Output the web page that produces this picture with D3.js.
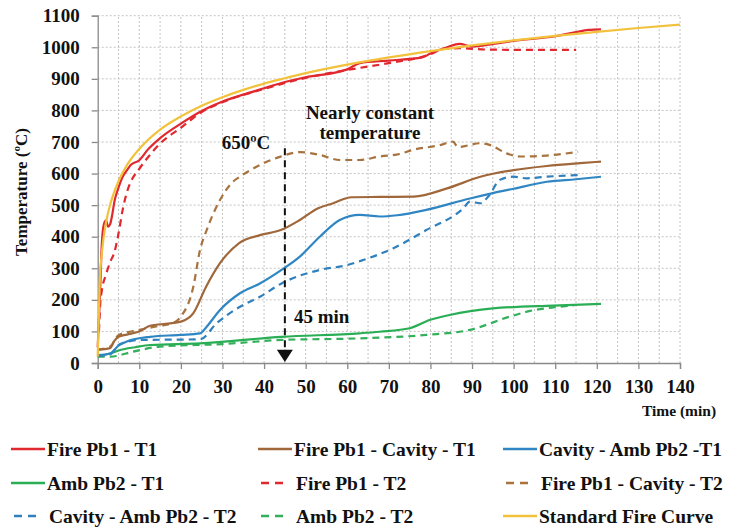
<!DOCTYPE html>
<html>
<head>
<meta charset="utf-8">
<script src="https://cdn.jsdelivr.net/npm/d3@7"></script>
<style>
  body { margin: 0; background: #fff; }
  text { font-family: "Liberation Serif", "Times New Roman", "DejaVu Serif", serif; font-weight: bold; fill: #111; }
</style>
</head>
<body>
<script>
// values: [time (min), temperature (ºC)]
var fireT1 = [[0,50],[0.5,200],[1,380],[1.5,440],[2,452],[2.5,432],[3,440],[3.5,470],[4,510],[5,555],[6,590],[7,610],[8,628],[10,642],
  [12,675],[15,712],[20,758],[25,798],[30,828],[35,850],[40,870],[45,890],[50,905],[60,930],[63,950],[70,958],[78,968],[80,980],
  [84,1000],[87,1011],[90,1002],[95,1010],[100,1020],[110,1035],[115,1048],[118,1055],[121,1057]];
var fireT2 = [[0.3,100],[0.6,185],[1,230],[2,280],[3,320],[4,350],[5,410],[6,485],[7,540],[8,575],[10,615],[12,650],[15,695],
  [20,745],[25,795],[30,826],[40,868],[50,903],[60,928],[70,950],[80,978],[83,995],[87,997],[93,993],[100,992],[110,992],[115,992]];
var cavT1 = [[0,42],[3,47],[4,70],[5,83],[7,90],[10,100],[12.6,118],[17,125],[20,131],[23,158],[26,240],[29.4,316],[34,380],
  [39,405],[44,421],[48.6,453],[53,490],[56.6,506],[61,525],[68,526],[76,527],[84,553],[92,590],[100,611],[108,624],[116,633],[121,638]];
var cavT2 = [[0,42],[3,52],[5,88],[10,105],[15,118],[18,126],[20,147],[23,242],[24.6,358],[26.2,421],[29.4,516],[32.6,575],
  [34.2,590],[39,627],[43.8,653],[48.6,668],[53.4,659],[58.2,643],[63,643],[67.8,654],[72.6,662],[75.8,675],[82.3,690],[85.4,701],
  [86.6,684],[92,696],[94.4,690],[98.3,664],[101.6,654],[107.9,657],[115.5,669]];
var ambCavT1 = [[0,25],[3,30],[5,55],[7,68],[12.6,83],[19.8,89],[24.6,94],[26.2,115],[29.4,168],[34.2,221],[39,252],[44.2,295],
  [48.6,337],[53.4,400],[58.2,453],[63,469],[67.8,464],[72,468],[79,485],[89.5,521],[95,538],[100,552],[108,574],[115,582],[121,590]];
var ambCavT2 = [[0,22],[3,28],[5.4,60],[10.2,73],[18,74],[24.6,75],[28.6,126],[34.2,178],[39,210],[44.2,252],[53.4,295],
  [60,310],[63.8,326],[71,363],[79,421],[87.9,490],[89.5,511],[92,506],[93.9,527],[96.7,580],[99.9,590],[103.1,585],[107.9,590],[115.5,595]];
var ambT1 = [[0,22],[3,30],[5.4,41],[9,50],[12.6,57],[24.6,62],[44.2,83],[63,94],[67.8,99],[75,110],[79.8,136],[84.6,152],
  [95,173],[109.5,182],[121,187]];
var ambT2 = [[0,20],[3,20],[8.5,36],[15,52],[30,60],[44.2,73],[63,78],[79,89],[89.5,105],[99.1,147],[104,165],[109.5,176],[114.4,182]];
var standard = [[0,20],[0.5,261],[1,349],[2,445],[3,502],[5,576],[7,626],[10,678],[15,739],[20,781],[25,815],[30,842],[35,865],
  [40,885],[45,902],[50,918],[60,945],[70,968],[80,988],[90,1006],[100,1022],[110,1036],[120,1049],[130,1061],[140,1072]];

var xTicks = [0,10,20,30,40,50,60,70,80,90,100,110,120,130,140];
var yTicks = [0,100,200,300,400,500,600,700,800,900,1000,1100];

var series = [
  {name: "Fire Pb1 - T1", data: fireT1, color: "#e0282e", dash: null},
  {name: "Fire Pb1 - Cavity - T1", data: cavT1, color: "#a0673a", dash: null},
  {name: "Cavity - Amb Pb2 -T1", data: ambCavT1, color: "#2f86c3", dash: null},
  {name: "Amb Pb2 - T1", data: ambT1, color: "#2aae55", dash: null},
  {name: "Fire Pb1 - T2", data: fireT2, color: "#e0282e", dash: "7,5"},
  {name: "Fire Pb1 - Cavity - T2", data: cavT2, color: "#a8733f", dash: "7,5"},
  {name: "Cavity - Amb Pb2 - T2", data: ambCavT2, color: "#2f80bd", dash: "7,5"},
  {name: "Amb Pb2 - T2", data: ambT2, color: "#34b05c", dash: "7,5"},
  {name: "Standard Fire Curve", data: standard, color: "#f2c23c", dash: null}
];

var svg = d3.select("body").append("svg").attr("width", 730).attr("height", 527);

var x = d3.scaleLinear().domain([0, 140]).range([97.7, 680]);
var y = d3.scaleLinear().domain([0, 1100]).range([363, 15.7]);

// grid (dotted)
var grid = svg.append("g").attr("stroke", "#c4c4c4").attr("stroke-width", 1).attr("stroke-dasharray", "2,2");
grid.selectAll("line.v").data(d3.range(5, 141, 5)).enter().append("line")
  .attr("x1", d => x(d)).attr("x2", d => x(d)).attr("y1", y(0)).attr("y2", y(1100));
grid.selectAll("line.h").data(yTicks.slice(1)).enter().append("line")
  .attr("x1", x(0)).attr("x2", x(140)).attr("y1", d => y(d)).attr("y2", d => y(d));

// axes
var xAxis = svg.append("g").attr("transform", "translate(0," + y(0) + ")")
  .call(d3.axisBottom(x).tickValues(xTicks).tickFormat(d3.format("d")).tickSize(6).tickPadding(11));
var yAxis = svg.append("g").attr("transform", "translate(" + x(0) + ",0)")
  .call(d3.axisLeft(y).tickValues(yTicks).tickFormat(d3.format("d")).tickSize(6).tickPadding(12));
[xAxis, yAxis].forEach(function(a){
  a.attr("font-family", null).attr("font-size", 19);
  a.selectAll("path, line").attr("stroke", "#8a8a8a").attr("stroke-width", 1.3);
  a.selectAll("text").attr("font-size", 19).attr("fill", "#111");
});

svg.append("text").attr("transform", "translate(27,192) rotate(-90)").attr("text-anchor", "middle")
  .attr("font-size", 17).text("Temperature (ºC)");
svg.append("text").attr("x", 679).attr("y", 416).attr("text-anchor", "middle").attr("font-size", 15.5).text("Time (min)");

// lines
var line = d3.line().x(d => x(d[0])).y(d => y(d[1])).curve(d3.curveMonotoneX);
var order = [7, 3, 6, 2, 5, 1, 4, 0, 8];
svg.selectAll("path.series").data(order.map(i => series[i])).enter().append("path")
  .attr("class", "series")
  .attr("fill", "none")
  .attr("stroke", d => d.color)
  .attr("stroke-width", 2.2)
  .attr("stroke-dasharray", d => d.dash)
  .attr("d", d => line(d.data));

// annotations
svg.append("line").attr("x1", x(45)).attr("x2", x(45)).attr("y1", y(680)).attr("y2", y(35))
  .attr("stroke", "#111").attr("stroke-width", 2).attr("stroke-dasharray", "7,5");
svg.append("path")
  .attr("d", "M" + (x(45) - 8) + "," + y(42) + "L" + (x(45) + 8) + "," + y(42) + "L" + x(45) + "," + (y(0) - 1) + "Z")
  .attr("fill", "#111");
svg.append("text").attr("x", x(47.2)).attr("y", y(145) + 6).attr("font-size", 19).text("45 min");
svg.append("text").attr("x", 246).attr("y", 149).attr("text-anchor", "middle").attr("font-size", 19).text("650ºC");
svg.append("text").attr("x", 370).attr("y", 119).attr("text-anchor", "middle").attr("font-size", 19).text("Nearly constant");
svg.append("text").attr("x", 370).attr("y", 139).attr("text-anchor", "middle").attr("font-size", 19).text("temperature");

// legend, three columns
var colX = [11, 258, 503];
var rowY = [449, 483, 516];
var leg = svg.selectAll("g.leg").data(series).enter().append("g")
  .attr("transform", (d, i) => "translate(" + colX[i % 3] + "," + rowY[Math.floor(i / 3)] + ")");
leg.append("line").attr("x1", d => d.dash ? 3 : 0).attr("x2", d => d.dash ? 29 : 34).attr("y1", 0).attr("y2", 0)
  .attr("stroke", d => d.color).attr("stroke-width", 2.5).attr("stroke-dasharray", d => d.dash ? "8,6" : null);
leg.append("text").attr("x", d => d.dash ? 38 : 36).attr("y", 7).attr("font-size", 19.5).text(d => d.name);
</script>
</body>
</html>
